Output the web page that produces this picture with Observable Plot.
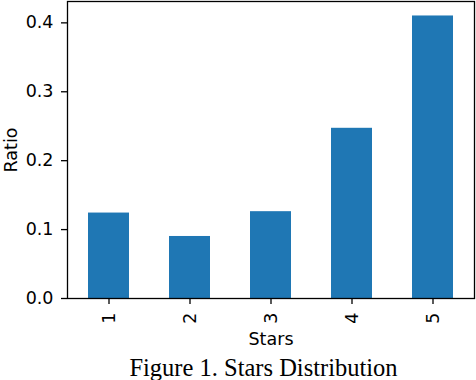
<!DOCTYPE html>
<html>
<head>
<meta charset="utf-8">
<script src="https://cdn.jsdelivr.net/npm/d3@7"></script>
<script src="https://cdn.jsdelivr.net/npm/@observablehq/plot@0.6"></script>
<style>
  html, body { margin: 0; padding: 0; background: white; width: 476px; height: 380px; overflow: hidden; }
  #chart svg { display: block; }
  #caption {
    font-family: "Liberation Serif", serif;
    font-size: 24.5px;
    line-height: 28px;
    height: 28px;
    margin-top: 2px;
    padding-left: 51px;
    text-align: center;
    color: black;
    white-space: nowrap;
  }
</style>
</head>
<body>
<div id="chart"></div>
<div id="caption">Figure 1. Stars Distribution</div>
<script>
const stars = ["1", "2", "3", "4", "5"];
const ratios = [0.124, 0.090, 0.126, 0.247, 0.410];
const yTicks = [0, 0.1, 0.2, 0.3, 0.4];
const xLabel = "Stars";
const yLabel = "Ratio";

const data = stars.map((s, i) => ({star: s, ratio: ratios[i]}));

const chart = Plot.plot({
  width: 476,
  height: 352,
  marginLeft: 67,
  marginRight: 2,
  marginTop: 1,
  marginBottom: 54,
  style: {fontFamily: "DejaVu Sans", fontSize: "17.5px", color: "black", background: "white"},
  x: {domain: stars, paddingInner: 0.5, paddingOuter: 0.25},
  y: {domain: [0, 0.431]},
  marks: [
    Plot.barY(data, {x: "star", y: "ratio", fill: "#1f77b4"}),
    Plot.frame({stroke: "black", strokeWidth: 1.3}),
    Plot.axisY({ticks: yTicks, tickFormat: d3.format(".1f"), tickSize: 6, tickPadding: 8, strokeWidth: 1.3,
      label: yLabel, labelArrow: false, labelAnchor: "center", labelOffset: 63}),
    Plot.axisX({tickSize: 6, tickPadding: 8, tickRotate: -90, strokeWidth: 1.3,
      label: xLabel, labelArrow: false, labelAnchor: "center", labelOffset: 46})
  ]
});
document.getElementById("chart").appendChild(chart);
</script>
</body>
</html>
